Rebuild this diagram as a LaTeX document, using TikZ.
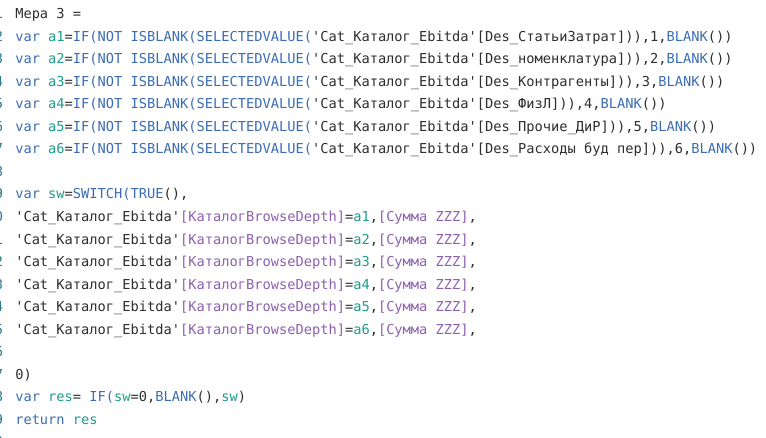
\documentclass[tikz,border=0pt]{standalone}
\usepackage{fontspec}
\newfontfamily\codefont[Ligatures=TeXOff]{DejaVu Sans Mono}
\usetikzlibrary{positioning}
\definecolor{kwblue}{HTML}{3C6DB4}
\definecolor{varteal}{HTML}{1F9C8C}
\definecolor{colpurple}{HTML}{8D60B0}
\definecolor{codegray}{HTML}{2E2E2E}
\definecolor{numteal}{HTML}{2B7A8F}
\newcommand{\kw}[1]{\textcolor{kwblue}{#1}}
\newcommand{\vn}[1]{\textcolor{varteal}{#1}}
\newcommand{\cn}[1]{\textcolor{colpurple}{#1}}
\newcommand{\tbl}{'Cat\_Каталог\_Ebitda'}
\tikzset{
    code/.style={anchor=base west, inner sep=0pt, text=codegray,
        font=\codefont\fontsize{10.27}{12}\selectfont},
    lnum/.style={anchor=base east, inner sep=0pt, text=numteal,
        font=\codefont\fontsize{10.27}{12}\selectfont},
}

\begin{document}
\begin{tikzpicture}[x=0.75pt, y=-0.75pt]
	\clip (0,0) rectangle (766,438);
	\fill[white] (0,0) rectangle (766,438);
	% line numbers, cut at the left edge
	\foreach \n in {1,...,20}
		\node[lnum] (num\n) at (3.5,{19+(\n-1)*22.5}) {\n};
	\node[code] (measure) at (15,19) {Мера 3 =};
	% var a1 ... a6
	\foreach \n/\des in {1/СтатьиЗатрат, 2/номенклатура, 3/Контрагенты, 4/ФизЛ, 5/Прочие\_ДиР, 6/Расходы буд пер}
		\node[code] (a\n) at (15,{19+\n*22.5}) {\kw{var} \vn{a\n}=\kw{IF(NOT ISBLANK(SELECTEDVALUE(}\tbl[Des\_\des])),\n,\kw{BLANK}())};
	\node[code] (sw) at (15,{19+8*22.5}) {\kw{var} \vn{sw}=\kw{SWITCH(TRUE}(),};
	% switch cases
	\foreach \n in {1,...,6}
		\node[code] (case\n) at (15,{19+(8+\n)*22.5}) {\tbl\cn{[КаталогBrowseDepth]}=\vn{a\n},\cn{[Сумма ZZZ]},};
	\node[code] (zero) at (15,{19+16*22.5}) {0)};
	\node[code] (res) at (15,{19+17*22.5}) {\kw{var} \vn{res}= \kw{IF(}\vn{sw}=0,\kw{BLANK}(),\vn{sw})};
	\node[code] (ret) at (15,{19+18*22.5}) {\kw{return} \vn{res}};
\end{tikzpicture}
\end{document}
